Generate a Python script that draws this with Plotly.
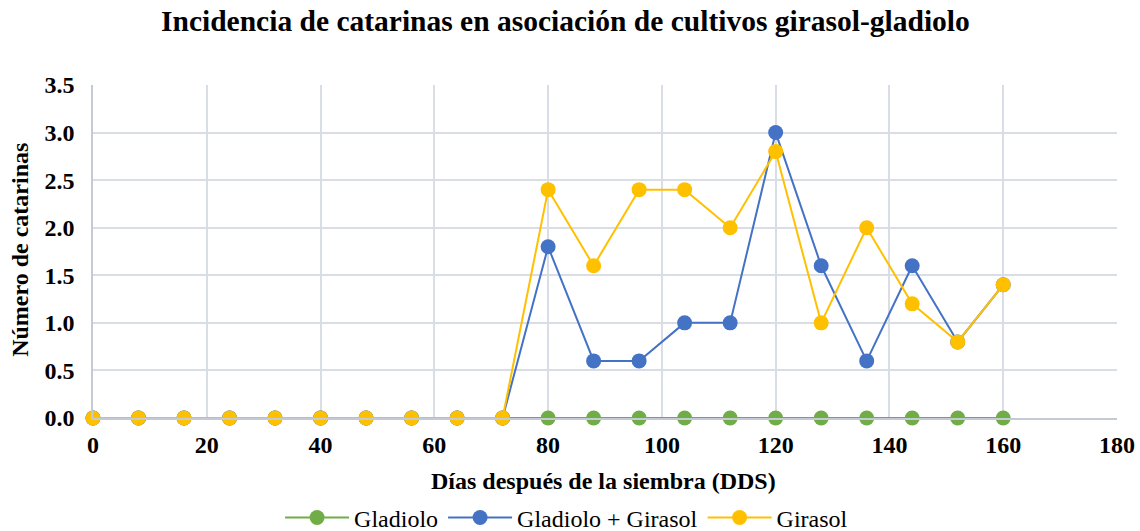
import plotly.graph_objects as go

dias = [0, 8, 16, 24, 32, 40, 48, 56, 64, 72, 80, 88, 96, 104, 112, 120, 128, 136, 144, 152, 160]
gladiolo = [0]*21
gladiolo_girasol = [0, 0, 0, 0, 0, 0, 0, 0, 0, 0, 1.8, 0.6, 0.6, 1.0, 1.0, 3.0, 1.6, 0.6, 1.6, 0.8, 1.4]
girasol = [0, 0, 0, 0, 0, 0, 0, 0, 0, 0, 2.4, 1.6, 2.4, 2.4, 2.0, 2.8, 1.0, 2.0, 1.2, 0.8, 1.4]

series = [
    ("Gladiolo", gladiolo, "#70AD47"),
    ("Gladiolo + Girasol", gladiolo_girasol, "#4472C4"),
    ("Girasol", girasol, "#FFC000"),
]

fig = go.Figure()
for name, vals, col in series:
    fig.add_trace(go.Scatter(
        x=dias, y=vals, name=name, mode="lines+markers",
        line=dict(color=col, width=2),
        marker=dict(color=col, size=15),
        cliponaxis=False,
    ))

serif = "Liberation Serif, Times New Roman, serif"
fig.update_layout(
    width=1140, height=531,
    margin=dict(l=93, r=23, t=85, b=113, autoexpand=False),
    paper_bgcolor="white", plot_bgcolor="white",
    font=dict(family=serif, color="black"),
    title=dict(text="<b>Incidencia de catarinas en asociación de cultivos girasol-gladiolo</b>",
               x=0.496, xanchor="center", y=0.961, yanchor="middle",
               font=dict(size=29.5, family=serif)),
    showlegend=True,
    legend=dict(orientation="h", x=0.497, xref="container", xanchor="center",
                y=-0.3, yanchor="middle",
                font=dict(size=24, family=serif), itemwidth=64, traceorder="normal"),
    xaxis=dict(range=[0, 180], dtick=20, tick0=0, automargin=False,
               showgrid=True, gridcolor="#D9DDE6", gridwidth=1.5,
               showline=True, linecolor="#C3CAD6", linewidth=1.5,
               zeroline=False, ticks="", ticklabelstandoff=4,
               tickfont=dict(size=24, family=serif)),
    yaxis=dict(range=[0, 3.5], dtick=0.5, tick0=0, tickformat=".1f", automargin=False,
               showgrid=True, gridcolor="#D9DDE6", gridwidth=1.5,
               showline=True, linecolor="#C3CAD6", linewidth=1.5,
               zeroline=False, ticks="", ticklabelstandoff=12,
               tickfont=dict(size=24, family=serif)),
    annotations=[
        dict(text="<b>Días después de la siembra (DDS)</b>", xref="paper", yref="paper",
             x=0.499, y=-0.189, xanchor="center", yanchor="middle", showarrow=False,
             font=dict(size=24, family=serif)),
        dict(text="<b>Número de catarinas</b>", xref="paper", yref="paper",
             x=-0.0713, y=0.505, xanchor="center", yanchor="middle", showarrow=False,
             textangle=-90, font=dict(size=24, family=serif)),
    ],
)
fig.update_xaxes(tickprefix="<b>", ticksuffix="</b>")
fig.update_yaxes(tickprefix="<b>", ticksuffix="</b>")

fig.write_html("out.html", config={"displayModeBar": False},
               post_script="document.body.style.margin='0';document.body.style.overflow='hidden';")
